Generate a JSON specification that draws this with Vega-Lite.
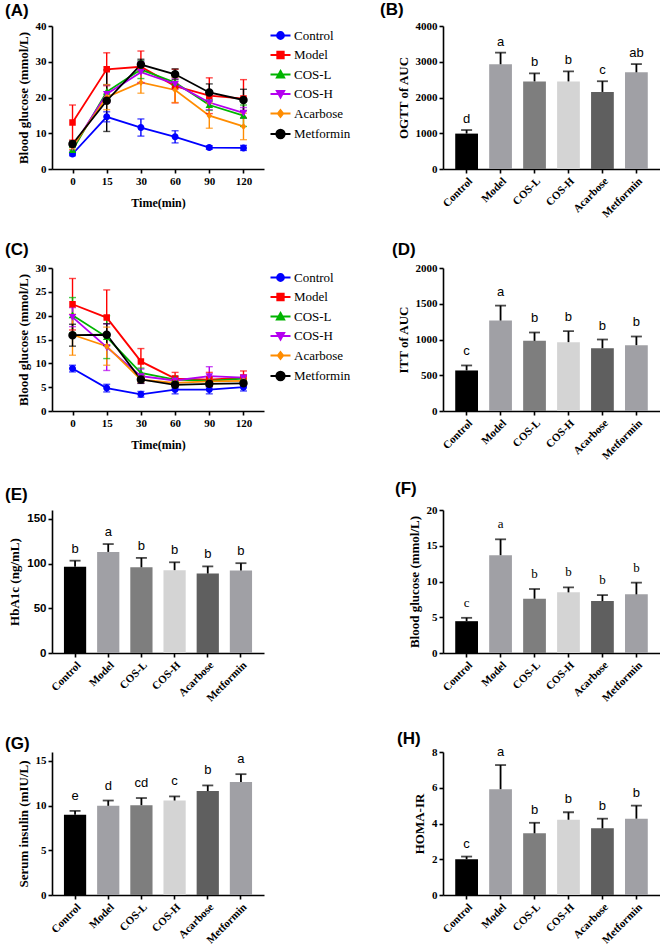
{
"$schema":"https://vega.github.io/schema/vega-lite/v6.json",
"padding":{"left":5,"top":1,"right":0,"bottom":0},
"bounds":"flush",
"columns":2,
"spacing":{"row":99,"column":179},
"resolve":{"scale":{"color":"independent","fill":"independent","stroke":"independent","shape":"independent","x":"independent","y":"independent"}},
"datasets":{
"ogtt":[
{"t":0,"g":"Control","m":4.2,"lo":3.7,"hi":4.7},{"t":15,"g":"Control","m":14.6,"lo":13.2,"hi":16.0},{"t":30,"g":"Control","m":11.6,"lo":9.2,"hi":14.0},{"t":60,"g":"Control","m":9.0,"lo":7.3,"hi":10.7},{"t":90,"g":"Control","m":6.0,"lo":5.5,"hi":6.5},{"t":120,"g":"Control","m":5.9,"lo":5.2,"hi":6.6},
{"t":0,"g":"Model","m":13.0,"lo":8.1,"hi":17.9},{"t":15,"g":"Model","m":27.9,"lo":23.3,"hi":32.5},{"t":30,"g":"Model","m":28.6,"lo":24.2,"hi":33.0},{"t":60,"g":"Model","m":23.2,"lo":18.5,"hi":27.9},{"t":90,"g":"Model","m":20.5,"lo":15.5,"hi":25.5},{"t":120,"g":"Model","m":19.7,"lo":14.4,"hi":25.0},
{"t":0,"g":"COS-L","m":5.3,"lo":4.5,"hi":6.1},{"t":15,"g":"COS-L","m":21.6,"lo":19.6,"hi":23.6},{"t":30,"g":"COS-L","m":27.8,"lo":25.3,"hi":30.3},{"t":60,"g":"COS-L","m":24.2,"lo":22.7,"hi":25.7},{"t":90,"g":"COS-L","m":17.9,"lo":16.4,"hi":19.4},{"t":120,"g":"COS-L","m":14.9,"lo":11.9,"hi":17.9},
{"t":0,"g":"COS-H","m":6.1,"lo":5.3,"hi":6.9},{"t":15,"g":"COS-H","m":21.0,"lo":18.5,"hi":23.5},{"t":30,"g":"COS-H","m":27.1,"lo":24.1,"hi":30.1},{"t":60,"g":"COS-H","m":23.8,"lo":22.3,"hi":25.3},{"t":90,"g":"COS-H","m":18.6,"lo":16.6,"hi":20.6},{"t":120,"g":"COS-H","m":15.7,"lo":14.2,"hi":17.2},
{"t":0,"g":"Acarbose","m":6.3,"lo":5.5,"hi":7.1},{"t":15,"g":"Acarbose","m":20.1,"lo":16.6,"hi":23.6},{"t":30,"g":"Acarbose","m":24.2,"lo":21.2,"hi":27.2},{"t":60,"g":"Acarbose","m":22.1,"lo":18.6,"hi":25.6},{"t":90,"g":"Acarbose","m":14.9,"lo":11.4,"hi":18.4},{"t":120,"g":"Acarbose","m":11.9,"lo":8.2,"hi":15.6},
{"t":0,"g":"Metformin","m":7.0,"lo":6.2,"hi":7.8},{"t":15,"g":"Metformin","m":19.1,"lo":10.5,"hi":27.7},{"t":30,"g":"Metformin","m":29.2,"lo":27.7,"hi":30.7},{"t":60,"g":"Metformin","m":26.5,"lo":25.0,"hi":28.0},{"t":90,"g":"Metformin","m":21.4,"lo":19.0,"hi":23.8},{"t":120,"g":"Metformin","m":19.3,"lo":16.3,"hi":22.3}
],
"itt":[
{"t":0,"g":"Control","m":8.9,"lo":8.2,"hi":9.6},{"t":15,"g":"Control","m":4.8,"lo":4.0,"hi":5.6},{"t":30,"g":"Control","m":3.5,"lo":2.9,"hi":4.1},{"t":60,"g":"Control","m":4.5,"lo":3.6,"hi":5.4},{"t":90,"g":"Control","m":4.5,"lo":3.6,"hi":5.4},{"t":120,"g":"Control","m":5.0,"lo":4.2,"hi":5.8},
{"t":0,"g":"Model","m":22.4,"lo":17.0,"hi":27.8},{"t":15,"g":"Model","m":19.6,"lo":13.8,"hi":25.4},{"t":30,"g":"Model","m":10.4,"lo":7.7,"hi":13.1},{"t":60,"g":"Model","m":6.8,"lo":5.5,"hi":8.1},{"t":90,"g":"Model","m":6.6,"lo":5.1,"hi":8.1},{"t":120,"g":"Model","m":7.0,"lo":5.6,"hi":8.4},
{"t":0,"g":"COS-L","m":20.1,"lo":16.4,"hi":23.8},{"t":15,"g":"COS-L","m":15.5,"lo":11.0,"hi":20.0},{"t":30,"g":"COS-L","m":8.0,"lo":7.0,"hi":9.0},{"t":60,"g":"COS-L","m":6.6,"lo":5.9,"hi":7.3},{"t":90,"g":"COS-L","m":6.3,"lo":5.6,"hi":7.0},{"t":120,"g":"COS-L","m":6.8,"lo":6.2,"hi":7.4},
{"t":0,"g":"COS-H","m":19.7,"lo":17.7,"hi":21.7},{"t":15,"g":"COS-H","m":13.4,"lo":8.5,"hi":18.3},{"t":30,"g":"COS-H","m":7.3,"lo":5.8,"hi":8.8},{"t":60,"g":"COS-H","m":6.4,"lo":5.7,"hi":7.1},{"t":90,"g":"COS-H","m":7.3,"lo":5.3,"hi":9.3},{"t":120,"g":"COS-H","m":7.0,"lo":6.4,"hi":7.6},
{"t":0,"g":"Acarbose","m":16.0,"lo":11.7,"hi":20.3},{"t":15,"g":"Acarbose","m":13.6,"lo":9.6,"hi":17.6},{"t":30,"g":"Acarbose","m":6.6,"lo":6.0,"hi":7.2},{"t":60,"g":"Acarbose","m":5.9,"lo":5.4,"hi":6.4},{"t":90,"g":"Acarbose","m":6.2,"lo":5.7,"hi":6.7},{"t":120,"g":"Acarbose","m":6.3,"lo":5.8,"hi":6.8},
{"t":0,"g":"Metformin","m":15.9,"lo":13.6,"hi":18.2},{"t":15,"g":"Metformin","m":16.0,"lo":13.7,"hi":18.3},{"t":30,"g":"Metformin","m":6.6,"lo":5.8,"hi":7.4},{"t":60,"g":"Metformin","m":5.5,"lo":4.9,"hi":6.1},{"t":90,"g":"Metformin","m":5.7,"lo":5.1,"hi":6.3},{"t":120,"g":"Metformin","m":5.8,"lo":5.2,"hi":6.4}
],
"B":[{"g":"Control","m":990,"hi":1090,"lab":"d"},{"g":"Model","m":2930,"hi":3255,"lab":"a"},{"g":"COS-L","m":2450,"hi":2675,"lab":"b"},{"g":"COS-H","m":2450,"hi":2730,"lab":"b"},{"g":"Acarbose","m":2155,"hi":2455,"lab":"c"},{"g":"Metformin","m":2705,"hi":2935,"lab":"ab"}],
"D":[{"g":"Control","m":567,"hi":637,"lab":"c"},{"g":"Model","m":1265,"hi":1474,"lab":"a"},{"g":"COS-L","m":981,"hi":1098,"lab":"b"},{"g":"COS-H","m":963,"hi":1116,"lab":"b"},{"g":"Acarbose","m":879,"hi":1000,"lab":"b"},{"g":"Metformin","m":921,"hi":1042,"lab":"b"}],
"E":[{"g":"Control","m":96.6,"hi":103.3,"lab":"b"},{"g":"Model","m":113.1,"hi":121.9,"lab":"a"},{"g":"COS-L","m":95.9,"hi":106.4,"lab":"b"},{"g":"COS-H","m":92.7,"hi":101.5,"lab":"b"},{"g":"Acarbose","m":88.9,"hi":96.9,"lab":"b"},{"g":"Metformin","m":92.4,"hi":100.5,"lab":"b"}],
"F":[{"g":"Control","m":4.45,"hi":4.92,"lab":"c"},{"g":"Model","m":13.68,"hi":15.9,"lab":"a"},{"g":"COS-L","m":7.59,"hi":8.95,"lab":"b"},{"g":"COS-H","m":8.48,"hi":9.18,"lab":"b"},{"g":"Acarbose","m":7.26,"hi":8.1,"lab":"b"},{"g":"Metformin","m":8.2,"hi":9.84,"lab":"b"}],
"G":[{"g":"Control","m":8.99,"hi":9.41,"lab":"e"},{"g":"Model","m":9.98,"hi":10.57,"lab":"d"},{"g":"COS-L","m":10.05,"hi":10.85,"lab":"cd"},{"g":"COS-H","m":10.57,"hi":11.03,"lab":"c"},{"g":"Acarbose","m":11.63,"hi":12.26,"lab":"b"},{"g":"Metformin","m":12.64,"hi":13.52,"lab":"a"}],
"H":[{"g":"Control","m":2.0,"hi":2.15,"lab":"c"},{"g":"Model","m":5.92,"hi":7.27,"lab":"a"},{"g":"COS-L","m":3.45,"hi":4.04,"lab":"b"},{"g":"COS-H","m":4.21,"hi":4.63,"lab":"b"},{"g":"Acarbose","m":3.73,"hi":4.27,"lab":"b"},{"g":"Metformin","m":4.27,"hi":5.0,"lab":"b"}]
},
"concat":[
{
"width":212,"height":143,
"title":{"text":"(A)","dx":-47,"offset":0},
"data":{"name":"ogtt"},
"encoding":{"x":{"field":"t","type":"ordinal","scale":{"type":"point","domain":[0,15,30,60,90,120],"padding":0.6},"axis":{"title":"Time(min)","labelAngle":0,"titlePadding":11,"titleFontSize":12}}},
"layer":[
{"mark":{"type":"line","strokeWidth":1.8},"encoding":{"y":{"field":"m","type":"quantitative","title":"Blood glucose (mmol/L)","scale":{"domain":[0,40]},"axis":{"values":[0,10,20,30,40],"labelOverlap":false}},"color":{"field":"g","type":"nominal","scale":{"domain":["Control","Model","COS-L","COS-H","Acarbose","Metformin"],"range":["#0000ff","#ff0000","#00b400","#b400f0","#ff8c00","#000000"]},"legend":{"title":null}}}},
{"mark":{"type":"rule","strokeWidth":1.4},"encoding":{"y":{"field":"lo","type":"quantitative","title":"Blood glucose (mmol/L)","axis":{"values":[0,10,20,30,40],"labelOverlap":false}},"y2":{"field":"hi"},"color":{"field":"g","type":"nominal","legend":{"title":null}}}},
{"mark":{"type":"tick","thickness":1.4,"size":7},"encoding":{"y":{"field":"lo","type":"quantitative","title":"Blood glucose (mmol/L)","axis":{"values":[0,10,20,30,40],"labelOverlap":false}},"color":{"field":"g","type":"nominal","legend":{"title":null}}}},
{"mark":{"type":"tick","thickness":1.4,"size":7},"encoding":{"y":{"field":"hi","type":"quantitative","title":"Blood glucose (mmol/L)","axis":{"values":[0,10,20,30,40],"labelOverlap":false}},"color":{"field":"g","type":"nominal","legend":{"title":null}}}},
{"mark":{"type":"point","filled":true,"opacity":1,"size":100,"strokeWidth":0},"encoding":{"y":{"field":"m","type":"quantitative","title":"Blood glucose (mmol/L)","axis":{"values":[0,10,20,30,40],"labelOverlap":false}},
"color":{"field":"g","type":"nominal","legend":{"title":null}},
"shape":{"field":"g","type":"nominal","scale":{"domain":["Control","Model","COS-L","COS-H","Acarbose","Metformin"],"range":["M-2,0L2,0M0.7,0A0.7,0.7,0,1,1,-0.7,0A0.7,0.7,0,1,1,0.7,0Z","M-2,0L2,0M-0.65,-0.65L0.65,-0.65L0.65,0.65L-0.65,0.65Z","M-2,0L2,0M0,-0.75L0.75,0.6L-0.75,0.6Z","M-2,0L2,0M0,0.75L0.75,-0.6L-0.75,-0.6Z","M-2,0L2,0M0,-0.7L0.55,0L0,0.7L-0.55,0Z","M-2,0L2,0M0.85,0A0.85,0.85,0,1,1,-0.85,0A0.85,0.85,0,1,1,0.85,0Z"]},"legend":{"title":null}}}}
]
},
{
"width":217,"height":143,
"title":{"text":"(B)","dx":-63,"offset":1},
"data":{"name":"B"},
"encoding":{"x":{"field":"g","type":"nominal","scale":{"domain":["Control","Model","COS-L","COS-H","Acarbose","Metformin"],"paddingInner":0.33,"paddingOuter":0.36},"axis":{"title":null,"labelAngle":-45,"labelOverlap":false}}},
"layer":[
{"mark":{"type":"bar"},"encoding":{"y":{"field":"m","type":"quantitative","title":"OGTT of AUC","scale":{"domain":[0,4000]},"axis":{"values":[0,1000,2000,3000,4000],"format":"d","labelOverlap":false}},"color":{"field":"g","type":"nominal","scale":{"domain":["Control","Model","COS-L","COS-H","Acarbose","Metformin"],"range":["#000000","#a0a0a5","#7e7e7e","#d4d4d4","#5f5f5f","#a0a0a5"]},"legend":null}}},
{"mark":{"type":"rule","color":"#000","strokeWidth":1.8},"encoding":{"y":{"field":"m","type":"quantitative","title":"OGTT of AUC","axis":{"values":[0,1000,2000,3000,4000],"format":"d","labelOverlap":false}},"y2":{"field":"hi"}}},
{"mark":{"type":"tick","color":"#000","thickness":1.8,"size":11},"encoding":{"y":{"field":"hi","type":"quantitative","title":"OGTT of AUC","axis":{"values":[0,1000,2000,3000,4000],"format":"d","labelOverlap":false}}}},
{"mark":{"type":"text","baseline":"middle","dy":-11,"font":"Liberation Sans","fontSize":13,"color":"#000"},"encoding":{"y":{"field":"hi","type":"quantitative","title":"OGTT of AUC","axis":{"values":[0,1000,2000,3000,4000],"format":"d","labelOverlap":false}},"text":{"field":"lab"}}}
]
},
{
"width":212,"height":143,
"title":{"text":"(C)","dx":-47,"offset":3},
"data":{"name":"itt"},
"encoding":{"x":{"field":"t","type":"ordinal","scale":{"type":"point","domain":[0,15,30,60,90,120],"padding":0.6},"axis":{"title":"Time(min)","labelAngle":0,"titlePadding":11,"titleFontSize":12}}},
"layer":[
{"mark":{"type":"line","strokeWidth":1.8},"encoding":{"y":{"field":"m","type":"quantitative","title":"Blood glucose (mmol/L)","scale":{"domain":[0,30]},"axis":{"values":[0,5,10,15,20,25,30],"labelOverlap":false}},"color":{"field":"g","type":"nominal","scale":{"domain":["Control","Model","COS-L","COS-H","Acarbose","Metformin"],"range":["#0000ff","#ff0000","#00b400","#b400f0","#ff8c00","#000000"]},"legend":{"title":null}}}},
{"mark":{"type":"rule","strokeWidth":1.4},"encoding":{"y":{"field":"lo","type":"quantitative","title":"Blood glucose (mmol/L)","axis":{"values":[0,5,10,15,20,25,30],"labelOverlap":false}},"y2":{"field":"hi"},"color":{"field":"g","type":"nominal","legend":{"title":null}}}},
{"mark":{"type":"tick","thickness":1.4,"size":7},"encoding":{"y":{"field":"lo","type":"quantitative","title":"Blood glucose (mmol/L)","axis":{"values":[0,5,10,15,20,25,30],"labelOverlap":false}},"color":{"field":"g","type":"nominal","legend":{"title":null}}}},
{"mark":{"type":"tick","thickness":1.4,"size":7},"encoding":{"y":{"field":"hi","type":"quantitative","title":"Blood glucose (mmol/L)","axis":{"values":[0,5,10,15,20,25,30],"labelOverlap":false}},"color":{"field":"g","type":"nominal","legend":{"title":null}}}},
{"mark":{"type":"point","filled":true,"opacity":1,"size":100,"strokeWidth":0},"encoding":{"y":{"field":"m","type":"quantitative","title":"Blood glucose (mmol/L)","axis":{"values":[0,5,10,15,20,25,30],"labelOverlap":false}},
"color":{"field":"g","type":"nominal","legend":{"title":null}},
"shape":{"field":"g","type":"nominal","scale":{"domain":["Control","Model","COS-L","COS-H","Acarbose","Metformin"],"range":["M-2,0L2,0M0.7,0A0.7,0.7,0,1,1,-0.7,0A0.7,0.7,0,1,1,0.7,0Z","M-2,0L2,0M-0.65,-0.65L0.65,-0.65L0.65,0.65L-0.65,0.65Z","M-2,0L2,0M0,-0.75L0.75,0.6L-0.75,0.6Z","M-2,0L2,0M0,0.75L0.75,-0.6L-0.75,-0.6Z","M-2,0L2,0M0,-0.7L0.55,0L0,0.7L-0.55,0Z","M-2,0L2,0M0.85,0A0.85,0.85,0,1,1,-0.85,0A0.85,0.85,0,1,1,0.85,0Z"]},"legend":{"title":null}}}}
]
},
{
"width":217,"height":143,
"title":{"text":"(D)","dx":-51,"offset":3},
"data":{"name":"D"},
"encoding":{"x":{"field":"g","type":"nominal","scale":{"domain":["Control","Model","COS-L","COS-H","Acarbose","Metformin"],"paddingInner":0.33,"paddingOuter":0.36},"axis":{"title":null,"labelAngle":-45,"labelOverlap":false}}},
"layer":[
{"mark":{"type":"bar"},"encoding":{"y":{"field":"m","type":"quantitative","title":"ITT of AUC","scale":{"domain":[0,2000]},"axis":{"values":[0,500,1000,1500,2000],"format":"d","labelOverlap":false}},"color":{"field":"g","type":"nominal","scale":{"domain":["Control","Model","COS-L","COS-H","Acarbose","Metformin"],"range":["#000000","#a0a0a5","#7e7e7e","#d4d4d4","#5f5f5f","#a0a0a5"]},"legend":null}}},
{"mark":{"type":"rule","color":"#000","strokeWidth":1.8},"encoding":{"y":{"field":"m","type":"quantitative","title":"ITT of AUC","axis":{"values":[0,500,1000,1500,2000],"format":"d","labelOverlap":false}},"y2":{"field":"hi"}}},
{"mark":{"type":"tick","color":"#000","thickness":1.8,"size":11},"encoding":{"y":{"field":"hi","type":"quantitative","title":"ITT of AUC","axis":{"values":[0,500,1000,1500,2000],"format":"d","labelOverlap":false}}}},
{"mark":{"type":"text","baseline":"middle","dy":-14,"font":"Liberation Sans","fontSize":13,"color":"#000"},"encoding":{"y":{"field":"hi","type":"quantitative","title":"ITT of AUC","axis":{"values":[0,500,1000,1500,2000],"format":"d","labelOverlap":false}},"text":{"field":"lab"}}}
]
},
{
"width":212,"height":143,
"title":{"text":"(E)","dx":-47,"offset":6},
"data":{"name":"E"},
"encoding":{"x":{"field":"g","type":"nominal","scale":{"domain":["Control","Model","COS-L","COS-H","Acarbose","Metformin"],"paddingInner":0.33,"paddingOuter":0.36},"axis":{"title":null,"labelAngle":-45,"labelOverlap":false}}},
"layer":[
{"mark":{"type":"bar"},"encoding":{"y":{"field":"m","type":"quantitative","title":"HbA1c (ng/mL)","scale":{"domain":[0,150]},"axis":{"values":[0,50,100,150],"labelFont":"Liberation Sans","labelFontSize":11.5,"labelOverlap":false}},"color":{"field":"g","type":"nominal","scale":{"domain":["Control","Model","COS-L","COS-H","Acarbose","Metformin"],"range":["#000000","#a0a0a5","#7e7e7e","#d4d4d4","#5f5f5f","#a0a0a5"]},"legend":null}}},
{"mark":{"type":"rule","color":"#000","strokeWidth":1.8},"encoding":{"y":{"field":"m","type":"quantitative","title":"HbA1c (ng/mL)","axis":{"values":[0,50,100,150],"labelFont":"Liberation Sans","labelFontSize":11.5,"labelOverlap":false}},"y2":{"field":"hi"}}},
{"mark":{"type":"tick","color":"#000","thickness":1.8,"size":11},"encoding":{"y":{"field":"hi","type":"quantitative","title":"HbA1c (ng/mL)","axis":{"values":[0,50,100,150],"labelFont":"Liberation Sans","labelFontSize":11.5,"labelOverlap":false}}}},
{"mark":{"type":"text","baseline":"middle","dy":-12,"font":"Liberation Sans","fontSize":13,"color":"#000"},"encoding":{"y":{"field":"hi","type":"quantitative","title":"HbA1c (ng/mL)","axis":{"values":[0,50,100,150],"labelFont":"Liberation Sans","labelFontSize":11.5,"labelOverlap":false}},"text":{"field":"lab"}}}
]
},
{
"width":217,"height":143,
"title":{"text":"(F)","dx":-48,"offset":6},
"data":{"name":"F"},
"encoding":{"x":{"field":"g","type":"nominal","scale":{"domain":["Control","Model","COS-L","COS-H","Acarbose","Metformin"],"paddingInner":0.33,"paddingOuter":0.36},"axis":{"title":null,"labelAngle":-45,"labelOverlap":false}}},
"layer":[
{"mark":{"type":"bar"},"encoding":{"y":{"field":"m","type":"quantitative","title":"Blood glucose (mmol/L)","scale":{"domain":[0,20]},"axis":{"values":[0,5,10,15,20],"labelOverlap":false}},"color":{"field":"g","type":"nominal","scale":{"domain":["Control","Model","COS-L","COS-H","Acarbose","Metformin"],"range":["#000000","#a0a0a5","#7e7e7e","#d4d4d4","#5f5f5f","#a0a0a5"]},"legend":null}}},
{"mark":{"type":"rule","color":"#000","strokeWidth":1.8},"encoding":{"y":{"field":"m","type":"quantitative","title":"Blood glucose (mmol/L)","axis":{"values":[0,5,10,15,20],"labelOverlap":false}},"y2":{"field":"hi"}}},
{"mark":{"type":"tick","color":"#000","thickness":1.8,"size":11},"encoding":{"y":{"field":"hi","type":"quantitative","title":"Blood glucose (mmol/L)","axis":{"values":[0,5,10,15,20],"labelOverlap":false}}}},
{"mark":{"type":"text","baseline":"middle","dy":-15,"font":"Liberation Serif","fontSize":13,"color":"#000"},"encoding":{"y":{"field":"hi","type":"quantitative","title":"Blood glucose (mmol/L)","axis":{"values":[0,5,10,15,20],"labelOverlap":false}},"text":{"field":"lab"}}}
]
},
{
"width":212,"height":143,
"title":{"text":"(G)","dx":-47,"offset":-1},
"data":{"name":"G"},
"encoding":{"x":{"field":"g","type":"nominal","scale":{"domain":["Control","Model","COS-L","COS-H","Acarbose","Metformin"],"paddingInner":0.33,"paddingOuter":0.36},"axis":{"title":null,"labelAngle":-45,"labelOverlap":false}}},
"layer":[
{"mark":{"type":"bar"},"encoding":{"y":{"field":"m","type":"quantitative","title":"Serum insulin (mIU/L)","scale":{"domain":[0,15]},"axis":{"values":[0,5,10,15],"labelOverlap":false}},"color":{"field":"g","type":"nominal","scale":{"domain":["Control","Model","COS-L","COS-H","Acarbose","Metformin"],"range":["#000000","#a0a0a5","#7e7e7e","#d4d4d4","#5f5f5f","#a0a0a5"]},"legend":null}}},
{"mark":{"type":"rule","color":"#000","strokeWidth":1.8},"encoding":{"y":{"field":"m","type":"quantitative","title":"Serum insulin (mIU/L)","axis":{"values":[0,5,10,15],"labelOverlap":false}},"y2":{"field":"hi"}}},
{"mark":{"type":"tick","color":"#000","thickness":1.8,"size":11},"encoding":{"y":{"field":"hi","type":"quantitative","title":"Serum insulin (mIU/L)","axis":{"values":[0,5,10,15],"labelOverlap":false}}}},
{"mark":{"type":"text","baseline":"middle","dy":-15,"font":"Liberation Sans","fontSize":13,"color":"#000"},"encoding":{"y":{"field":"hi","type":"quantitative","title":"Serum insulin (mIU/L)","axis":{"values":[0,5,10,15],"labelOverlap":false}},"text":{"field":"lab"}}}
]
},
{
"width":217,"height":143,
"title":{"text":"(H)","dx":-46,"offset":-2},
"data":{"name":"H"},
"encoding":{"x":{"field":"g","type":"nominal","scale":{"domain":["Control","Model","COS-L","COS-H","Acarbose","Metformin"],"paddingInner":0.33,"paddingOuter":0.36},"axis":{"title":null,"labelAngle":-45,"labelOverlap":false}}},
"layer":[
{"mark":{"type":"bar"},"encoding":{"y":{"field":"m","type":"quantitative","title":"HOMA-IR","scale":{"domain":[0,8]},"axis":{"values":[0,2,4,6,8],"labelOverlap":false}},"color":{"field":"g","type":"nominal","scale":{"domain":["Control","Model","COS-L","COS-H","Acarbose","Metformin"],"range":["#000000","#a0a0a5","#7e7e7e","#d4d4d4","#5f5f5f","#a0a0a5"]},"legend":null}}},
{"mark":{"type":"rule","color":"#000","strokeWidth":1.8},"encoding":{"y":{"field":"m","type":"quantitative","title":"HOMA-IR","axis":{"values":[0,2,4,6,8],"labelOverlap":false}},"y2":{"field":"hi"}}},
{"mark":{"type":"tick","color":"#000","thickness":1.8,"size":11},"encoding":{"y":{"field":"hi","type":"quantitative","title":"HOMA-IR","axis":{"values":[0,2,4,6,8],"labelOverlap":false}}}},
{"mark":{"type":"text","baseline":"middle","dy":-13,"font":"Liberation Sans","fontSize":13,"color":"#000"},"encoding":{"y":{"field":"hi","type":"quantitative","title":"HOMA-IR","axis":{"values":[0,2,4,6,8],"labelOverlap":false}},"text":{"field":"lab"}}}
]
}
],
"config":{
"view":{"stroke":null},
"font":"Liberation Serif",
"axis":{"domainColor":"#000","domainWidth":1.6,"tickColor":"#000","tickWidth":1.6,"tickSize":4,"labelFont":"Liberation Serif","labelFontWeight":"bold","labelFontSize":11,"labelColor":"#000","labelPadding":2,"titleFont":"Liberation Serif","titleFontWeight":"bold","titleFontSize":13,"titleColor":"#000","titlePadding":5,"grid":false},
"title":{"font":"Liberation Sans","fontWeight":"bold","fontSize":17,"color":"#000","anchor":"start","frame":"group"},
"legend":{"orient":"right","offset":7,"padding":3,"labelFont":"Liberation Serif","labelFontSize":13,"labelColor":"#000","labelOffset":7,"rowPadding":4.5,"symbolOpacity":1,"symbolSize":100,"symbolStrokeWidth":1.8}
}
}
